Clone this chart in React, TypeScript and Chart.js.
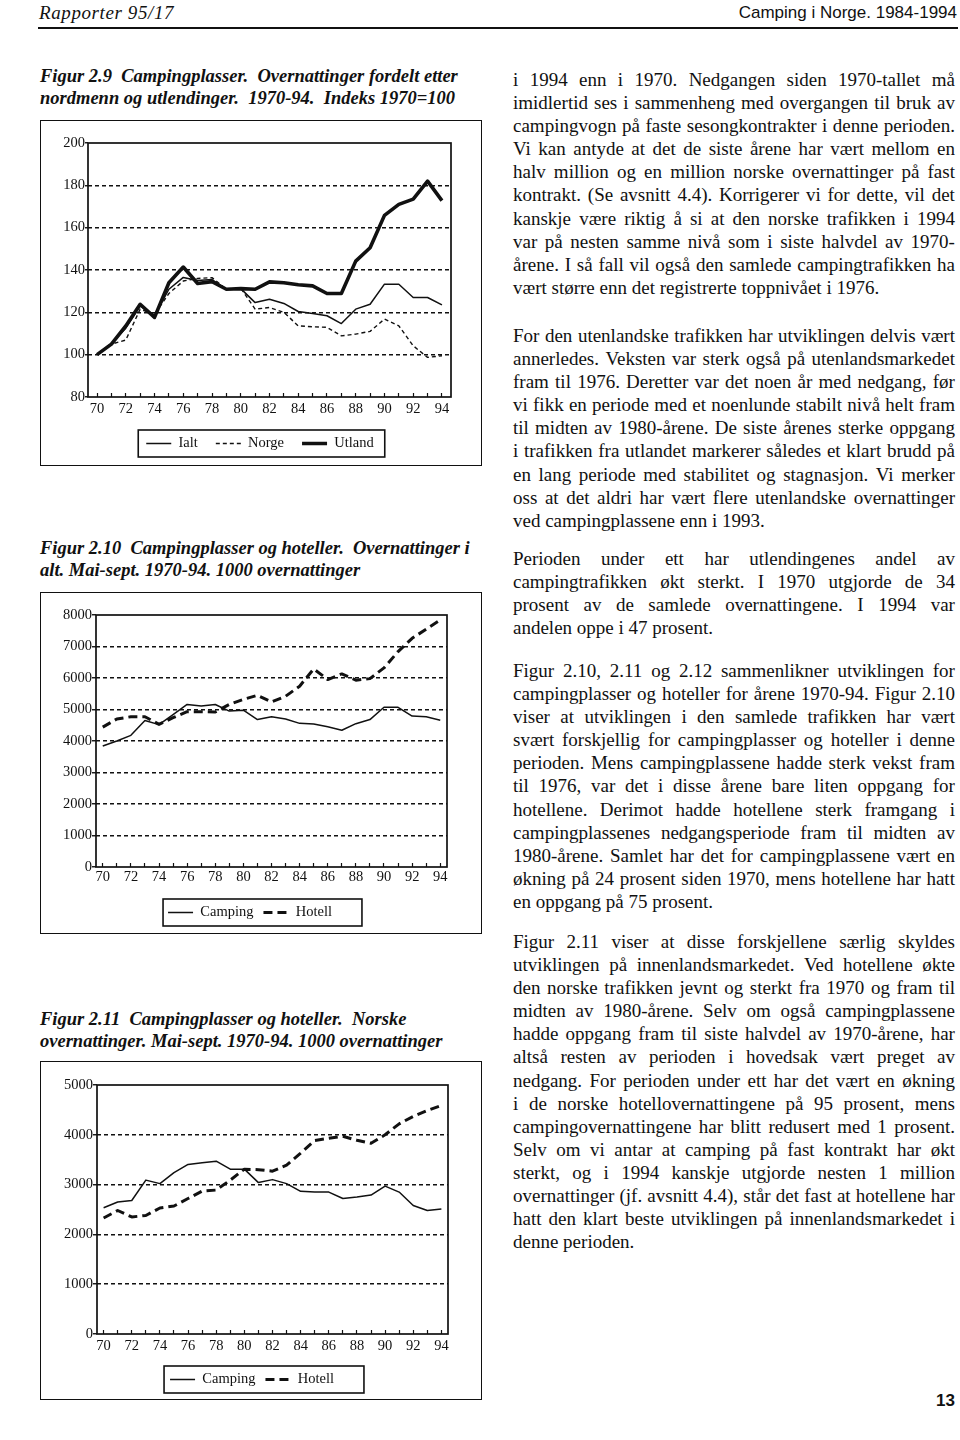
import React, { useEffect, useRef } from "react";
import { Chart, registerables } from "chart.js";

Chart.register(...registerables);

// ---------- DATA ----------
const YEARS = [70, 71, 72, 73, 74, 75, 76, 77, 78, 79, 80, 81, 82, 83, 84, 85, 86, 87, 88, 89, 90, 91, 92, 93, 94];

// Figur 2.9 – index 1970 = 100
const IALT = [100, 105.3, 112.5, 123, 118.4, 130.9, 136.5, 135, 135.5, 130.9, 131.2, 124.6, 126.2, 124.2, 120.4, 119.5, 118.4, 114.7, 121.5, 123.8, 133.3, 133.3, 127, 127, 123.5];
const NORGE = [100, 105, 106.9, 121.5, 119, 128.9, 134.8, 136, 136.4, 130.9, 131.4, 121.5, 122.3, 120, 113.6, 113.2, 112.9, 108.9, 109.7, 111, 116.8, 113.6, 104.2, 98.7, 99.5];
const UTLAND = [100, 105, 113.6, 123.8, 117.6, 134, 141.4, 133.6, 134.5, 130.9, 131.2, 130.9, 134.4, 134, 133, 132.5, 128.9, 128.9, 144.2, 150.5, 165.8, 171, 173.5, 182, 172.8];

// Figur 2.10 – 1000 overnattinger i alt
const CAMPING_ALT = [3840, 4000, 4180, 4650, 4520, 4840, 5160, 5110, 5160, 4950, 4980, 4680, 4770, 4700, 4560, 4540, 4450, 4340, 4550, 4680, 5070, 5070, 4790, 4770, 4660];
const HOTELL_ALT = [4440, 4700, 4770, 4770, 4530, 4740, 4930, 4930, 4920, 5160, 5320, 5450, 5240, 5420, 5740, 6290, 5950, 6130, 5930, 5980, 6320, 6840, 7260, 7550, 7840];

// Figur 2.11 – 1000 norske overnattinger
const CAMPING_NORSK = [2534, 2650, 2680, 3090, 3020, 3240, 3405, 3440, 3470, 3310, 3310, 3040, 3100, 3020, 2865, 2850, 2850, 2720, 2750, 2790, 2970, 2850, 2580, 2480, 2510];
const HOTELL_NORSK = [2330, 2480, 2350, 2380, 2530, 2570, 2720, 2870, 2890, 3090, 3310, 3300, 3270, 3390, 3630, 3885, 3930, 3970, 3890, 3830, 4000, 4220, 4370, 4490, 4590];

const Y_TICKS_1 = [80, 100, 120, 140, 160, 180, 200];
const Y_TICKS_2 = [0, 1000, 2000, 3000, 4000, 5000, 6000, 7000, 8000];
const Y_TICKS_3 = [0, 1000, 2000, 3000, 4000, 5000];

const LABELS_1 = ["Ialt", "Norge", "Utland"];
const LABELS_2 = ["Camping", "Hotell"];

// ---------- STYLE ----------
const INK = "#111";
const SERIF = '"Liberation Serif", "Times New Roman", serif';
const SANS = '"Liberation Sans", Arial, sans-serif';

Chart.defaults.font.family = SERIF;
Chart.defaults.color = INK;

const framePlugin = {
  id: "frame",
  beforeDatasetsDraw(chart: any) {
    const { ctx, chartArea: a } = chart;
    ctx.save();
    ctx.strokeStyle = INK;
    ctx.lineWidth = 1.7;
    ctx.setLineDash([]);
    ctx.strokeRect(a.left, a.top, a.right - a.left, a.bottom - a.top);
    ctx.restore();
  },
};

const legendPlacePlugin = {
  id: "legendPlace",
  afterLayout(chart: any, _args: any, opts: any) {
    const lg = chart.legend;
    if (!lg || opts == null || opts.center == null) return;
    const w = lg.right - lg.left;
    lg.left = opts.center - w / 2;
    lg.right = opts.center + w / 2;
  },
};

const legendBoxPlugin = {
  id: "legendBox",
  afterDraw(chart: any, _args: any, opts: any) {
    const hb = chart.legend && chart.legend.legendHitBoxes;
    if (!hb || !hb.length) return;
    const l = Math.min(...hb.map((h: any) => h.left)) - opts.padLeft;
    const r = Math.max(...hb.map((h: any) => h.left + h.width)) + opts.padRight;
    const t = Math.min(...hb.map((h: any) => h.top)) - opts.padY;
    const b = Math.max(...hb.map((h: any) => h.top + h.height)) + opts.padY;
    const ctx = chart.ctx;
    ctx.save();
    ctx.strokeStyle = INK;
    ctx.lineWidth = 1.6;
    ctx.setLineDash([]);
    ctx.strokeRect(l, t, r - l, b - t);
    ctx.restore();
  },
};

type Series = { label: string; data: number[]; width: number; dash: number[] };
type Spec = {
  canvasH: number;
  padTop: number;
  padRight: number;
  padBottom: number;
  yAxisWidth: number;
  xAxisHeight: number;
  yTickLen: number;
  xLabelPad: number;
  xMin: number;
  xMax: number;
  yTicks: number[];
  legendPadding: number;
  legendCenter: number;
  boxPad: { padLeft: number; padRight: number; padY: number };
  series: Series[];
};

function LineChart({ spec }: { spec: Spec }) {
  const ref = useRef<HTMLCanvasElement | null>(null);
  useEffect(() => {
    if (!ref.current) return;
    const yMin = spec.yTicks[0];
    const yMax = spec.yTicks[spec.yTicks.length - 1];
    const chart = new Chart(ref.current, {
      type: "line",
      data: {
        datasets: spec.series.map((s) => ({
          label: s.label,
          data: YEARS.map((yr, i) => ({ x: yr, y: s.data[i] })),
          borderColor: INK,
          backgroundColor: INK,
          borderWidth: s.width,
          borderDash: s.dash,
          borderJoinStyle: "round",
          borderCapStyle: "butt",
          pointRadius: 0,
          tension: 0,
          fill: false,
        })),
      },
      options: {
        responsive: false,
        animation: false,
        devicePixelRatio: 1,
        events: [],
        layout: { padding: { left: 0, top: spec.padTop, right: spec.padRight, bottom: spec.padBottom } },
        scales: {
          x: {
            type: "linear",
            min: spec.xMin,
            max: spec.xMax,
            afterBuildTicks: (s: any) => {
              s.ticks = YEARS.map((v) => ({ value: v }));
            },
            afterFit: (s: any) => {
              s.height = spec.xAxisHeight;
            },
            grid: {
              display: true,
              drawOnChartArea: false,
              drawTicks: true,
              tickLength: -4,
              tickColor: INK,
              tickWidth: 1.2,
              color: INK,
            },
            border: { display: false },
            ticks: {
              autoSkip: false,
              maxRotation: 0,
              padding: spec.xLabelPad,
              color: INK,
              font: { size: 14.5, family: SERIF },
              callback: (v: any) => (Number(v) % 2 === 0 ? String(v) : ""),
            },
          },
          y: {
            type: "linear",
            min: yMin,
            max: yMax,
            afterBuildTicks: (s: any) => {
              s.ticks = spec.yTicks.map((v) => ({ value: v }));
            },
            afterFit: (s: any) => {
              s.width = spec.yAxisWidth;
            },
            grid: {
              color: (c: any) =>
                c.tick && (c.tick.value === yMin || c.tick.value === yMax) ? "rgba(0,0,0,0)" : INK,
              lineWidth: 1.5,
              drawTicks: true,
              tickLength: spec.yTickLen,
              tickColor: INK,
              tickWidth: 1.4,
            },
            border: { display: false, dash: [4, 3] },
            ticks: {
              padding: 0,
              color: INK,
              font: { size: 14.5, family: SERIF },
              callback: (v: any) => String(v),
            },
          },
        },
        plugins: {
          tooltip: { enabled: false },
          legend: {
            display: true,
            position: "bottom",
            align: "center",
            onClick: () => {},
            labels: {
              usePointStyle: true,
              pointStyle: "line",
              pointStyleWidth: 25,
              boxHeight: 14.5,
              padding: spec.legendPadding,
              color: INK,
              font: { size: 14.5, family: SERIF },
              generateLabels: (ch: any) =>
                ch.data.datasets.map((d: any, i: number) => ({
                  text: d.label,
                  datasetIndex: i,
                  hidden: false,
                  fillStyle: "rgba(0,0,0,0)",
                  strokeStyle: INK,
                  lineWidth: d.borderWidth,
                  lineDash: d.borderDash || [],
                  lineCap: "butt",
                  pointStyle: "line",
                  fontColor: INK,
                })),
            },
          },
          legendPlace: { center: spec.legendCenter },
          legendBox: spec.boxPad,
        } as any,
      },
      plugins: [framePlugin, legendPlacePlugin, legendBoxPlugin],
    } as any);
    return () => chart.destroy();
  }, [spec]);
  return <canvas ref={ref} width={440} height={spec.canvasH} style={{ display: "block" }} />;
}

const SPEC_1: Spec = {
  canvasH: 344,
  padTop: 22,
  padRight: 30,
  padBottom: 4.25,
  yAxisWidth: 47,
  xAxisHeight: 21.25,
  yTickLen: 3,
  xLabelPad: 7.3,
  xMin: 69.37,
  xMax: 94.63,
  yTicks: Y_TICKS_1,
  legendPadding: 18,
  legendCenter: 219,
  boxPad: { padLeft: 8, padRight: 11, padY: 6.25 },
  series: [
    { label: LABELS_1[0], data: IALT, width: 1.5, dash: [] },
    { label: LABELS_1[1], data: NORGE, width: 1.4, dash: [4, 3] },
    { label: LABELS_1[2], data: UTLAND, width: 3.6, dash: [] },
  ],
};

const SPEC_2: Spec = {
  canvasH: 340,
  padTop: 22,
  padRight: 34,
  padBottom: 3.25,
  yAxisWidth: 55,
  xAxisHeight: 28.25,
  yTickLen: 4,
  xLabelPad: 5.3,
  xMin: 69.52,
  xMax: 94.48,
  yTicks: Y_TICKS_2,
  legendPadding: 10,
  legendCenter: 209,
  boxPad: { padLeft: 5, padRight: 30, padY: 6.25 },
  series: [
    { label: LABELS_2[0], data: CAMPING_ALT, width: 1.5, dash: [] },
    { label: LABELS_2[1], data: HOTELL_ALT, width: 3, dash: [9, 5] },
  ],
};

const SPEC_3: Spec = {
  canvasH: 337,
  padTop: 23,
  padRight: 33,
  padBottom: 2.25,
  yAxisWidth: 56,
  xAxisHeight: 28.25,
  yTickLen: 4,
  xLabelPad: 7.3,
  xMin: 69.53,
  xMax: 94.47,
  yTicks: Y_TICKS_3,
  legendPadding: 10,
  legendCenter: 211,
  boxPad: { padLeft: 6, padRight: 30, padY: 6.25 },
  series: [
    { label: LABELS_2[0], data: CAMPING_NORSK, width: 1.5, dash: [] },
    { label: LABELS_2[1], data: HOTELL_NORSK, width: 3, dash: [9, 5] },
  ],
};

// ---------- TEXT ----------
const CAP_1 = ["Figur 2.9  Campingplasser.  Overnattinger fordelt etter", "nordmenn og utlendinger.  1970-94.  Indeks 1970=100"];
const CAP_2 = ["Figur 2.10  Campingplasser og hoteller.  Overnattinger i", "alt. Mai-sept. 1970-94. 1000 overnattinger"];
const CAP_3 = ["Figur 2.11  Campingplasser og hoteller.  Norske", "overnattinger. Mai-sept. 1970-94. 1000 overnattinger"];

const P1 = [
  "i 1994 enn i 1970.  Nedgangen siden 1970-tallet må",
  "imidlertid ses i sammenheng med overgangen til bruk av",
  "campingvogn på faste sesongkontrakter i denne perioden.",
  "Vi kan antyde at det de siste årene har vært mellom en",
  "halv million og en million norske overnattinger på fast",
  "kontrakt. (Se avsnitt 4.4). Korrigerer vi for dette, vil det",
  "kanskje være riktig å si at den norske trafikken i 1994",
  "var på nesten samme nivå som i siste halvdel av 1970-",
  "årene.  I så fall vil også den samlede campingtrafikken ha",
  "vært større enn det registrerte toppnivået i 1976.",
];
const P2 = [
  "For den utenlandske trafikken har utviklingen delvis vært",
  "annerledes. Veksten var sterk også på utenlandsmarkedet",
  "fram til 1976. Deretter var det noen år med nedgang, før",
  "vi fikk en periode med et noenlunde stabilt nivå helt fram",
  "til midten av 1980-årene. De siste årenes sterke oppgang",
  "i trafikken fra utlandet markerer således et klart brudd på",
  "en lang periode med stabilitet og stagnasjon. Vi merker",
  "oss at det aldri har vært flere utenlandske overnattinger",
  "ved campingplassene enn i 1993.",
];
const P3 = [
  "Perioden under ett har utlendingenes andel av",
  "campingtrafikken økt sterkt.  I 1970 utgjorde de 34",
  "prosent av de samlede overnattingene.  I 1994 var",
  "andelen oppe i 47 prosent.",
];
const P4 = [
  "Figur 2.10, 2.11 og 2.12 sammenlikner utviklingen for",
  "campingplasser og hoteller for årene 1970-94. Figur 2.10",
  "viser at utviklingen i den samlede trafikken har vært",
  "svært forskjellig for campingplasser og hoteller i denne",
  "perioden. Mens campingplassene hadde sterk vekst fram",
  "til 1976, var det i disse årene bare liten oppgang for",
  "hotellene.  Derimot hadde hotellene sterk framgang i",
  "campingplassenes nedgangsperiode fram til midten av",
  "1980-årene. Samlet har det for campingplassene vært en",
  "økning på 24 prosent siden 1970, mens hotellene har hatt",
  "en oppgang på 75 prosent.",
];
const P5 = [
  "Figur 2.11 viser at disse forskjellene særlig skyldes",
  "utviklingen på innenlandsmarkedet. Ved hotellene økte",
  "den norske trafikken jevnt og sterkt fra 1970 og fram til",
  "midten av 1980-årene.  Selv om også campingplassene",
  "hadde oppgang fram til siste halvdel av 1970-årene, har",
  "altså resten av perioden i hovedsak vært preget av",
  "nedgang. For perioden under ett har det vært en økning",
  "i de norske hotellovernattingene på 95 prosent, mens",
  "campingovernattingene har blitt redusert med 1 prosent.",
  "Selv om vi antar at camping på fast kontrakt har økt",
  "sterkt, og i 1994 kanskje utgjorde nesten 1 million",
  "overnattinger (jf. avsnitt 4.4), står det fast at hotellene har",
  "hatt den klart beste utviklingen på innenlandsmarkedet i",
  "denne perioden.",
];

const LINE = 23.1;

function Para({ top, lines }: { top: number; lines: string[] }) {
  return (
    <div style={{ position: "absolute", left: 513, top, width: 442, fontSize: 19, lineHeight: `${LINE}px` }}>
      {lines.map((ln, i) =>
        i < lines.length - 1 ? (
          <div key={i} style={{ display: "flex", justifyContent: "space-between", height: LINE, whiteSpace: "pre" }}>
            {ln.split(/\s+/).map((w, j) => (
              <span key={j}>{w}</span>
            ))}
          </div>
        ) : (
          <div key={i} style={{ height: LINE, whiteSpace: "pre" }}>
            {ln}
          </div>
        )
      )}
    </div>
  );
}

function Caption({ top, lines }: { top: number; lines: string[] }) {
  return (
    <div
      style={{
        position: "absolute",
        left: 40,
        top,
        fontSize: 18.5,
        lineHeight: "22px",
        fontWeight: "bold",
        fontStyle: "italic",
        whiteSpace: "pre",
      }}
    >
      {lines.map((l, i) => (
        <div key={i}>{l}</div>
      ))}
    </div>
  );
}

function Figure({ top, height, spec }: { top: number; height: number; spec: Spec }) {
  return (
    <>
      <div
        style={{
          position: "absolute",
          left: 40,
          top,
          width: 442,
          height,
          border: `1.6px solid ${INK}`,
          boxSizing: "border-box",
        }}
      />
      <div style={{ position: "absolute", left: 41, top: top + 1 }}>
        <LineChart spec={spec} />
      </div>
    </>
  );
}

export default function App() {
  return (
    <div
      style={{
        position: "absolute",
        left: 0,
        top: 0,
        width: 960,
        height: 1440,
        background: "#fff",
        color: INK,
        fontFamily: SERIF,
        overflow: "hidden",
      }}
    >
      <div
        style={{
          position: "absolute",
          left: 39,
          top: 2,
          fontSize: 19,
          lineHeight: "22px",
          fontStyle: "italic",
          letterSpacing: 0.6,
        }}
      >
        Rapporter 95/17
      </div>
      <div
        style={{
          position: "absolute",
          right: 3,
          top: 3,
          fontSize: 17,
          lineHeight: "20px",
          fontFamily: SANS,
        }}
      >
        Camping i Norge. 1984-1994
      </div>
      <div style={{ position: "absolute", left: 38, top: 27, width: 920, height: 2, background: INK }} />

      <Caption top={64.8} lines={CAP_1} />
      <Figure top={120} height={346} spec={SPEC_1} />

      <Caption top={536.8} lines={CAP_2} />
      <Figure top={592} height={342} spec={SPEC_2} />

      <Caption top={1008} lines={CAP_3} />
      <Figure top={1061} height={339} spec={SPEC_3} />

      <Para top={68} lines={P1} />
      <Para top={324} lines={P2} />
      <Para top={547} lines={P3} />
      <Para top={659} lines={P4} />
      <Para top={930} lines={P5} />

      <div
        style={{
          position: "absolute",
          right: 5,
          top: 1391,
          fontSize: 17,
          lineHeight: "20px",
          fontFamily: SANS,
          fontWeight: "bold",
        }}
      >
        13
      </div>
    </div>
  );
}
